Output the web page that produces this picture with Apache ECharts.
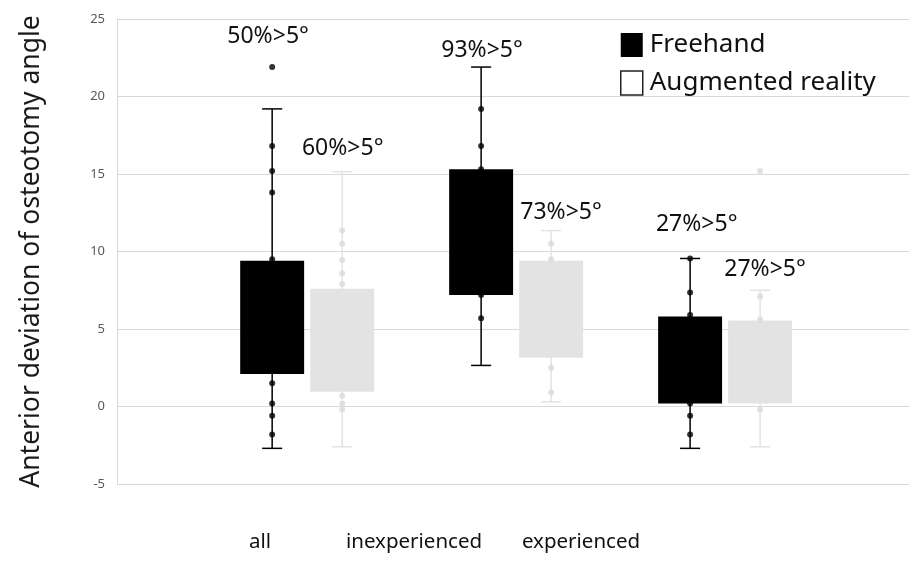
<!DOCTYPE html>
<html><head><meta charset="utf-8">
<script src="https://cdn.jsdelivr.net/npm/echarts@6/dist/echarts.min.js"></script>
<style>html,body{margin:0;padding:0;background:#fff}#c{width:909px;height:568px}</style>
</head><body><div id="c"></div>
<script>
// ---- data ----
const categories = ['all', 'inexperienced', 'experienced'];
const seriesNames = ['Freehand', 'Augmented reality'];
// [whisker min, Q1, Q3, whisker max]
const freehandBoxes = [[-2.7, 2.1, 9.4, 19.2], [2.65, 7.2, 15.3, 21.9], [-2.7, 0.2, 5.8, 9.55]];
const arBoxes = [[-2.6, 0.95, 7.6, 15.15], [0.3, 3.15, 9.4, 11.35], [-2.6, 0.2, 5.55, 7.5]];
// individual observations shown as dots
const freehandPoints = [
  [21.9, 16.8, 15.2, 13.8, 9.5, 1.5, 0.2, -0.6, -1.8],
  [19.2, 16.8, 15.3, 7.2, 5.7],
  [9.55, 7.35, 5.9, 0.2, -0.6, -1.8]
];
const arPoints = [
  [11.35, 10.5, 9.45, 8.6, 7.9, 0.7, 0.2, -0.2],
  [10.5, 9.5, 2.5, 0.9],
  [15.2, 7.1, 5.6, -0.2]
];
const pctLabels = ['50%>5°', '60%>5°', '93%>5°', '73%>5°', '27%>5°', '27%>5°'];
const yMin = -5, yMax = 25, yStep = 5;
const yTitle = 'Anterior deviation of osteotomy angle';

// ---- layout (kept separate from data) ----
const OFFSET = 0.1675, BOX_HALF = 0.153, CAP_HALF = 0.048;
const pctLabelAnchors = [[0.813, 23.9], [1.17, 16.68], [1.837, 22.97], [2.215, 12.55], [2.864, 11.77], [3.191, 8.81]];
const catLabelX = [260, 414, 581];
const FONT = 'Noto Sans';

function boxRender(offset, fill, stroke) {
  return function (params, api) {
    const x = api.value(0) + offset;
    const mn = api.value(1), q1 = api.value(2), q3 = api.value(3), mx = api.value(4);
    const pMin = api.coord([x, mn]), pMax = api.coord([x, mx]);
    const pA = api.coord([x - BOX_HALF, q1]), pB = api.coord([x + BOX_HALF, q3]);
    const cL = api.coord([x - CAP_HALF, mn])[0], cR = api.coord([x + CAP_HALF, mn])[0];
    const ls = { stroke: stroke, lineWidth: 1.5 };
    return { type: 'group', children: [
      { type: 'line', shape: { x1: pMin[0], y1: pMin[1], x2: pMax[0], y2: pMax[1] }, style: ls },
      { type: 'line', shape: { x1: cL, y1: pMin[1], x2: cR, y2: pMin[1] }, style: ls },
      { type: 'line', shape: { x1: cL, y1: pMax[1], x2: cR, y2: pMax[1] }, style: ls },
      { type: 'rect', shape: { x: pA[0], y: pB[1], width: pB[0] - pA[0], height: pA[1] - pB[1] }, style: { fill: fill } }
    ]};
  };
}
function labelRender(params, api) {
  const p = api.coord([api.value(0), api.value(1)]);
  return { type: 'text', x: p[0], y: p[1],
    style: { text: pctLabels[params.dataIndex], fontSize: 23, fill: '#111', fontFamily: FONT,
      textAlign: 'center', textVerticalAlign: 'middle' } };
}
function boxData(boxes) { return boxes.map((b, i) => [i + 1].concat(b)); }
function pointData(pts, offset) {
  const out = [];
  pts.forEach((arr, i) => arr.forEach(v => out.push([i + 1 + offset, v])));
  return out;
}

const FH = '#000000', AR = '#e3e3e3', ARDOT = '#dadada';
const chart = echarts.init(document.getElementById('c'), null, { renderer: 'canvas' });
chart.setOption({
  animation: false,
  backgroundColor: '#ffffff',
  textStyle: { fontFamily: FONT },
  grid: { left: 117, right: 0, top: 19, bottom: 84 },
  legend: {
    orient: 'vertical', left: 615, top: 27, icon: 'rect', itemWidth: 22, itemHeight: 24, itemGap: 12,
    selectedMode: false,
    textStyle: { fontSize: 26, color: '#111', fontFamily: FONT, padding: [0, 0, 0, 2] },
    data: [
      { name: seriesNames[0], itemStyle: { color: FH } },
      { name: seriesNames[1], itemStyle: { color: '#ffffff', borderColor: '#222', borderWidth: 1.5 } }
    ]
  },
  xAxis: { type: 'value', min: 0.09, max: 3.88, show: false },
  yAxis: {
    type: 'value', min: yMin, max: yMax, interval: yStep,
    axisLine: { show: true, lineStyle: { color: '#d9d9d9', width: 1 } },
    axisTick: { show: false },
    splitLine: { lineStyle: { color: '#d9d9d9', width: 1 } },
    axisLabel: { color: '#595959', fontSize: 13, margin: 12, fontFamily: FONT },
    name: yTitle, nameLocation: 'middle', nameRotate: 90, nameGap: 72,
    nameTextStyle: { fontSize: 26.5, color: '#1a1a1a', fontFamily: FONT }
  },
  graphic: categories.map((c, i) => ({
    type: 'text', x: catLabelX[i], y: 542,
    style: { text: c, fontSize: 20.5, fill: '#111', fontFamily: FONT, textAlign: 'center', textVerticalAlign: 'middle' }
  })),
  series: [
    { name: seriesNames[0], type: 'custom', renderItem: boxRender(-OFFSET, FH, FH), data: boxData(freehandBoxes),
      encode: { x: 0, y: [1, 2, 3, 4] }, itemStyle: { color: FH }, silent: true },
    { name: seriesNames[1], type: 'custom', renderItem: boxRender(OFFSET, AR, AR), data: boxData(arBoxes),
      encode: { x: 0, y: [1, 2, 3, 4] }, itemStyle: { color: AR }, silent: true },
    { name: seriesNames[0], type: 'scatter', data: pointData(freehandPoints, -OFFSET), symbolSize: 6,
      itemStyle: { color: FH }, silent: true, z: 3 },
    { name: seriesNames[1], type: 'scatter', data: pointData(arPoints, OFFSET), symbolSize: 6,
      itemStyle: { color: ARDOT }, silent: true, z: 3 },
    { name: 'pct', type: 'custom', renderItem: labelRender, silent: true, z: 4, clip: false,
      data: pctLabelAnchors, encode: { x: 0, y: 1 } }
  ]
});
</script></body></html>
